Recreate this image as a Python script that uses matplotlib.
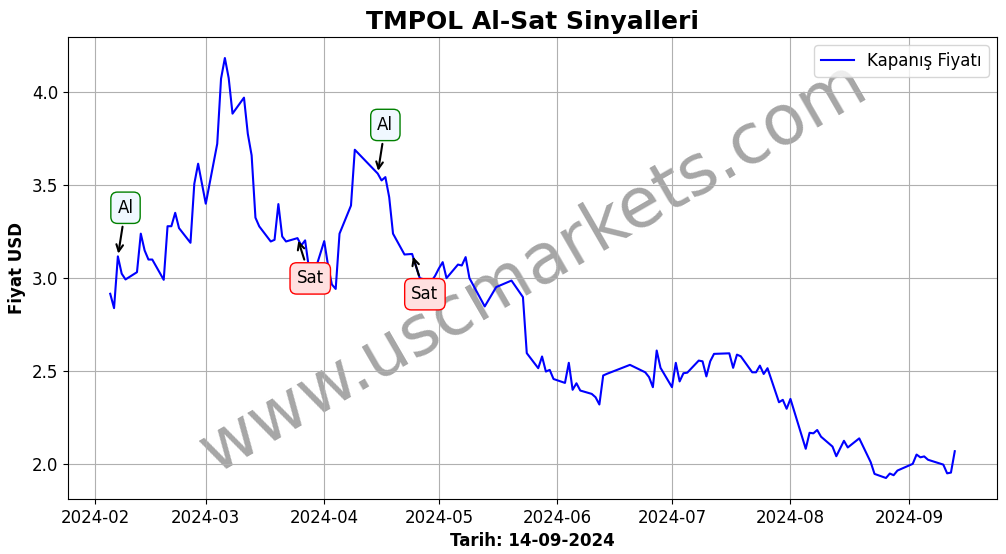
import matplotlib
matplotlib.use('Agg')
import matplotlib.pyplot as plt
import matplotlib.dates as mdates
import pandas as pd

dates = [
    '2024-02-05', '2024-02-06', '2024-02-07', '2024-02-08', '2024-02-09',
    '2024-02-12', '2024-02-13', '2024-02-14', '2024-02-15', '2024-02-16',
    '2024-02-19', '2024-02-20', '2024-02-21', '2024-02-22', '2024-02-23',
    '2024-02-26', '2024-02-27', '2024-02-28', '2024-03-01',
    '2024-03-04', '2024-03-05', '2024-03-06', '2024-03-07', '2024-03-08',
    '2024-03-11', '2024-03-12', '2024-03-13', '2024-03-14', '2024-03-15',
    '2024-03-18', '2024-03-19', '2024-03-20', '2024-03-21', '2024-03-22',
    '2024-03-25', '2024-03-26', '2024-03-27', '2024-03-28', '2024-03-29',
    '2024-04-01', '2024-04-02', '2024-04-03', '2024-04-04', '2024-04-05',
    '2024-04-08', '2024-04-09', '2024-04-15', '2024-04-16', '2024-04-17',
    '2024-04-18', '2024-04-19', '2024-04-22', '2024-04-24', '2024-04-26',
    '2024-04-29', '2024-04-30', '2024-05-01', '2024-05-02', '2024-05-03',
    '2024-05-06', '2024-05-07', '2024-05-08', '2024-05-09', '2024-05-13',
    '2024-05-16', '2024-05-20', '2024-05-23', '2024-05-24', '2024-05-27',
    '2024-05-28', '2024-05-29', '2024-05-30', '2024-05-31', '2024-06-03',
    '2024-06-04', '2024-06-05', '2024-06-06', '2024-06-07', '2024-06-10',
    '2024-06-11', '2024-06-12', '2024-06-13', '2024-06-14', '2024-06-20',
    '2024-06-24', '2024-06-25', '2024-06-26', '2024-06-27', '2024-06-28',
    '2024-07-01', '2024-07-02', '2024-07-03', '2024-07-04', '2024-07-05',
    '2024-07-08', '2024-07-09', '2024-07-10', '2024-07-11', '2024-07-12',
    '2024-07-16', '2024-07-17', '2024-07-18', '2024-07-19', '2024-07-22',
    '2024-07-23', '2024-07-24', '2024-07-25', '2024-07-26', '2024-07-29',
    '2024-07-30', '2024-07-31', '2024-08-01', '2024-08-05', '2024-08-06',
    '2024-08-07', '2024-08-08', '2024-08-09', '2024-08-12', '2024-08-13',
    '2024-08-15', '2024-08-16', '2024-08-19', '2024-08-22', '2024-08-23',
    '2024-08-26', '2024-08-27', '2024-08-28', '2024-08-29', '2024-09-02',
    '2024-09-03', '2024-09-04', '2024-09-05', '2024-09-06', '2024-09-10',
    '2024-09-11', '2024-09-12', '2024-09-13',
]

prices = [
    2.914, 2.837, 3.115, 3.022, 2.991,
    3.030, 3.237, 3.147, 3.098, 3.098,
    2.989, 3.277, 3.277, 3.349, 3.267,
    3.188, 3.505, 3.613, 3.398,
    3.720, 4.070, 4.181, 4.073, 3.882,
    3.968, 3.774, 3.658, 3.323, 3.276,
    3.195, 3.204, 3.396, 3.222, 3.195,
    3.213, 3.174, 3.201, 3.050, 3.000,
    3.197, 3.066, 2.964, 2.940, 3.237,
    3.388, 3.688, 3.560, 3.523, 3.541,
    3.433, 3.237, 3.125, 3.128, 2.998,
    2.980, 3.010, 3.050, 3.084, 2.998,
    3.071, 3.066, 3.111, 2.998, 2.846,
    2.950, 2.985, 2.896, 2.595, 2.514,
    2.577, 2.496, 2.505, 2.456, 2.435,
    2.543, 2.398, 2.433, 2.394, 2.376,
    2.358, 2.319, 2.475, 2.484, 2.532,
    2.492, 2.466, 2.412, 2.609, 2.516,
    2.412, 2.543, 2.443, 2.487, 2.490,
    2.555, 2.551, 2.470, 2.551, 2.591,
    2.594, 2.516, 2.587, 2.578, 2.492,
    2.492, 2.528, 2.483, 2.514, 2.331,
    2.344, 2.296, 2.349, 2.081, 2.167,
    2.164, 2.182, 2.146, 2.093, 2.041,
    2.124, 2.088, 2.137, 2.009, 1.946,
    1.924, 1.948, 1.939, 1.964, 2.000,
    2.050, 2.035, 2.040, 2.022, 1.996,
    1.949, 1.953, 2.068,
]

signal_dates = ['2024-02-07', '2024-03-25', '2024-04-15', '2024-04-24']
signal_prices = [3.115, 3.213, 3.560, 3.128]
signal_types = ['Al', 'Sat', 'Al', 'Sat']

x = pd.to_datetime(dates)

fig, ax = plt.subplots(figsize=(10.06, 5.54), dpi=100)
fig.subplots_adjust(left=68/1006, right=997/1006, bottom=1-499/554, top=1-37/554)

ax.text(0.5, 0.5, 'www.uscmarkets.com', transform=ax.transAxes,
        fontsize=50, color='gray', alpha=0.7, rotation=30,
        ha='center', va='center', zorder=0)

ax.plot(x, prices, color='blue', lw=1.5, label='Kapanış Fiyatı', zorder=3)

for d, p, t in zip(signal_dates, signal_prices, signal_types):
    if t == 'Al':
        off = (5.5, 35)
        fc, ec = 'aliceblue', 'green'
    else:
        off = (9.2, -29)
        fc, ec = '#ffe0e0', 'red'
    ax.annotate(t, xy=(pd.Timestamp(d), p), xytext=off, textcoords='offset points',
                ha='center', va='center', fontsize=12,
                bbox=dict(boxstyle='round,pad=0.4', fc=fc, ec=ec, lw=1),
                arrowprops=dict(arrowstyle='->', color='black', lw=1.5),
                zorder=5)

ax.set_title('TMPOL Al-Sat Sinyalleri', fontsize=18, fontweight='bold')
ax.set_xlabel('Tarih: 14-09-2024', fontsize=12, fontweight='bold')
ax.set_ylabel('Fiyat USD', fontsize=12, fontweight='bold')
ax.xaxis.set_major_locator(mdates.MonthLocator())
ax.xaxis.set_major_formatter(mdates.DateFormatter('%Y-%m'))
ax.tick_params(labelsize=12)
ax.grid(True)
ax.legend(loc='upper right', fontsize=12)

fig.savefig('out.png', dpi=100)
